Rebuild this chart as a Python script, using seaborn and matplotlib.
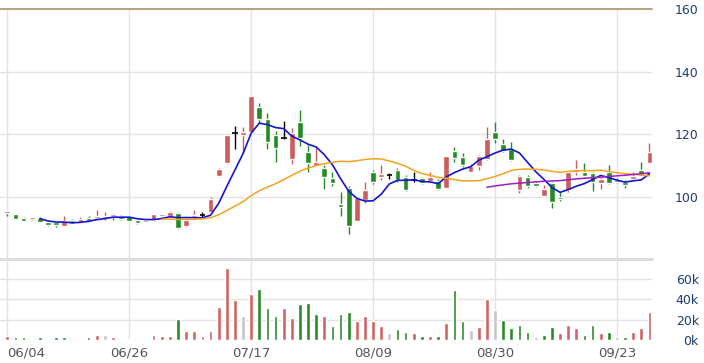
import numpy as np
import pandas as pd
import matplotlib
matplotlib.use('Agg')
import matplotlib.pyplot as plt
import seaborn as sns

# daily candles (price units)
opens = [95.0, 94.3, 92.9, 92.9, 93.1, 92.0, 91.2, 90.7, 92.4, 92.0,
         93.1, 93.0, 93.1, 93.7, 93.9, 93.7, 92.4, 91.8, 92.4, 93.7,
         93.8, 94.8, 90.5, 93.3, 94.1, 95.0, 106.5, 110.6, 120.2, 119.8,
         120.6, 128.7, 124.9, 119.8, 118.7, 111.9, 123.8, 114.2, 109.7, 109.1,
         105.9, 97.5, 102.7, 92.2, 99.0, 108.0, 106.3, 106.9, 108.4, 106.1,
         105.4, 105.9, 105.0, 105.0, 102.7, 114.6, 112.5, 108.0, 109.7, 112.1,
         120.6, 116.8, 115.1, 102.2, 106.1, 104.2, 100.1, 104.2, 99.7, 102.2,
         107.8, 108.0, 107.6, 104.2, 107.8, 105.2, 104.6, 105.7, 108.4, 110.8]
highs = [95.0, 94.3, 93.5, 93.6, 93.3, 92.0, 91.7, 93.7, 92.8, 93.6,
         93.8, 95.6, 95.2, 94.4, 94.0, 93.8, 92.6, 92.5, 94.5, 94.4,
         95.4, 95.2, 92.7, 95.6, 95.0, 100.0, 109.0, 120.0, 122.6, 122.4,
         132.3, 129.8, 126.6, 121.1, 124.3, 121.9, 127.7, 116.6, 116.3, 110.2,
         108.0, 101.6, 103.3, 99.6, 104.8, 108.5, 110.2, 107.6, 109.0, 106.8,
         107.8, 106.3, 107.8, 105.6, 113.0, 115.9, 113.9, 110.5, 113.4, 122.1,
         124.0, 118.3, 117.5, 106.9, 107.0, 104.9, 103.6, 104.6, 101.6, 108.2,
         111.6, 110.8, 107.9, 106.1, 110.2, 105.9, 105.2, 108.0, 111.0, 117.0]
lows = [93.7, 92.7, 92.3, 92.5, 91.8, 90.7, 90.4, 90.6, 91.6, 91.7,
        92.1, 92.6, 92.4, 92.6, 92.6, 92.2, 91.3, 91.7, 92.2, 93.0,
        93.6, 89.6, 90.4, 93.0, 93.3, 94.8, 106.3, 110.3, 115.1, 114.0,
        120.4, 123.6, 115.1, 111.0, 118.3, 110.4, 116.1, 107.8, 109.7, 102.5,
        103.5, 93.9, 87.9, 92.1, 98.0, 104.0, 105.2, 105.7, 104.5, 101.9,
        104.6, 104.1, 104.8, 102.0, 102.6, 111.2, 109.6, 107.7, 108.5, 111.6,
        117.0, 114.3, 111.3, 101.2, 102.7, 102.9, 100.1, 96.3, 98.6, 101.6,
        107.0, 106.1, 101.8, 102.5, 104.1, 104.3, 102.8, 105.5, 106.8, 110.6]
closes = [94.6, 92.7, 92.3, 93.2, 91.9, 90.8, 91.0, 92.2, 91.9, 92.8,
          92.3, 93.9, 93.7, 94.3, 92.7, 92.3, 91.4, 92.4, 94.3, 94.3,
          95.2, 89.9, 92.6, 94.1, 94.1, 99.3, 108.9, 119.8, 120.2, 120.4,
          132.1, 124.9, 117.4, 115.5, 118.7, 120.2, 118.7, 110.6, 111.0, 106.3,
          104.2, 96.5, 90.5, 99.5, 102.0, 104.6, 107.1, 106.9, 105.2, 102.2,
          105.4, 104.4, 106.1, 102.5, 112.9, 112.3, 110.0, 109.9, 112.9, 118.5,
          118.3, 114.6, 111.6, 106.7, 103.5, 103.4, 102.5, 98.2, 99.1, 107.8,
          108.9, 106.7, 104.6, 105.7, 104.4, 104.7, 103.6, 106.7, 107.2, 114.2]

# volume in thousands, colour by change vs previous close (r up, g down, n flat)
volumes = [4.0, 2.7, 2.7, 1.3, 2.7, 1.3, 2.7, 2.7, 0.3, 0.7,
           2.7, 5.0, 5.0, 2.7, 1.3, 1.3, 1.3, 1.3, 5.0, 4.0,
           4.0, 20.7, 9.3, 9.3, 4.0, 9.3, 32.7, 70.7, 39.3, 24.0,
           45.3, 50.7, 31.7, 24.0, 31.7, 21.7, 35.7, 36.7, 25.3, 24.0,
           14.0, 25.3, 28.0, 18.3, 24.0, 18.3, 14.0, 6.7, 10.7, 8.0,
           6.7, 4.0, 4.0, 4.0, 16.7, 49.3, 18.3, 10.0, 12.7, 40.7,
           29.3, 19.3, 11.7, 15.0, 8.0, 2.7, 5.0, 12.7, 6.7, 15.0,
           11.7, 5.0, 15.0, 6.7, 8.0, 2.7, 2.7, 8.0, 11.7, 28.0]
vol_dir = ('rgggggggggg' 'rnrrgggrrr' 'grrrrrrrnr' 'gggrrgggrg'
           'ggrrrrnggr' 'grgrggnrrn' 'ggggnggrrr' 'ggrgngrrr')

date_labels = ['06/04', '06/26', '07/17', '08/09', '08/30', '09/23']

RED = '#cd5c5c'
GREEN = '#228b22'
GRID = '#e3e3e3'
AXIS_TXT = '#1f3d6e'

sns.set_style('white')
plt.rcParams['font.family'] = ['DejaVu Sans']

df = pd.DataFrame({'open': opens, 'high': highs, 'low': lows, 'close': closes,
                   'volume': volumes, 'vdir': list(vol_dir)})
df['i'] = np.arange(len(df))
df['ma5'] = df['close'].rolling(5).mean()
df['ma20'] = df['close'].rolling(20).mean()
df['ma60'] = df['close'].rolling(60).mean()

fig = plt.figure(figsize=(7.04, 3.63), dpi=100)
ax = fig.add_axes([0, 0.2865, 0.926, 0.6887])
axv = fig.add_axes([0, 0.0634, 0.926, 0.2231], sharex=ax)

tick_pos = np.arange(len(date_labels)) * 15

for a in (ax, axv):
    for s in a.spines.values():
        s.set_visible(False)
    a.set_xticks(tick_pos)
    a.grid(True, color=GRID, lw=1)
    a.set_axisbelow(True)
    a.yaxis.tick_right()
    a.tick_params(axis='y', length=0, pad=33.8, labelsize=9, labelcolor=AXIS_TXT)
    a.tick_params(axis='x', length=0)

# candles
up = df['close'] > df['open']
down = df['close'] < df['open']
doji = df['close'] == df['open']
cols = np.where(up, RED, np.where(down, GREEN, 'black'))
ax.vlines(df['i'], df['low'], df['high'], colors=cols, lw=1, zorder=2)
body_lo = df[['open', 'close']].min(axis=1)
body_h = (df['close'] - df['open']).abs().clip(lower=0.7)
ax.bar(df['i'][~doji], body_h[~doji], bottom=body_lo[~doji], width=0.7,
       color=cols[~doji.values], zorder=3)
ax.hlines(df['close'][doji], df['i'][doji] - 0.35, df['i'][doji] + 0.35,
          colors='black', lw=1.2, zorder=3)

sns.lineplot(data=df, x='i', y='ma5', ax=ax, color='#1414d2', lw=1.2, zorder=4)
sns.lineplot(data=df, x='i', y='ma20', ax=ax, color='#f5a21c', lw=1.1, zorder=4)
sns.lineplot(data=df, x='i', y='ma60', ax=ax, color='#9a1fc4', lw=1.1, zorder=4)

ax.axhline(160, color='#b8a27c', lw=1.4, clip_on=False, zorder=5)
ax.set_ylim(80, 160)
ax.set_yticks([100, 120, 140, 160])
ax.set_xlabel('')
ax.set_ylabel('')
ax.tick_params(axis='x', labelbottom=False)
for lab in ax.get_yticklabels():
    lab.set_horizontalalignment('right')

# volume
vcol = df['vdir'].map({'r': '#d06464', 'g': '#2a8a2a', 'n': '#c6c6c6'})
axv.bar(df['i'], df['volume'], width=0.46, color=vcol, zorder=3)
axv.axhline(80, color='#dcdcdc', lw=2.2, clip_on=False, zorder=5)
axv.set_ylim(0, 80)
axv.set_yticks([0, 20, 40, 60])
axv.set_yticklabels(['0k', '20k', '40k', '60k'])
for lab in axv.get_yticklabels():
    lab.set_horizontalalignment('right')
axv.grid(axis='y', color=GRID, lw=1)
axv.set_xticklabels(date_labels)
axv.tick_params(axis='x', pad=4.5, labelsize=9.5, labelcolor='#555555')
axv.get_xticklabels()[0].set_horizontalalignment('left')
axv.set_xlim(-0.9, 79.3)

fig.savefig('out.png', dpi=100)
